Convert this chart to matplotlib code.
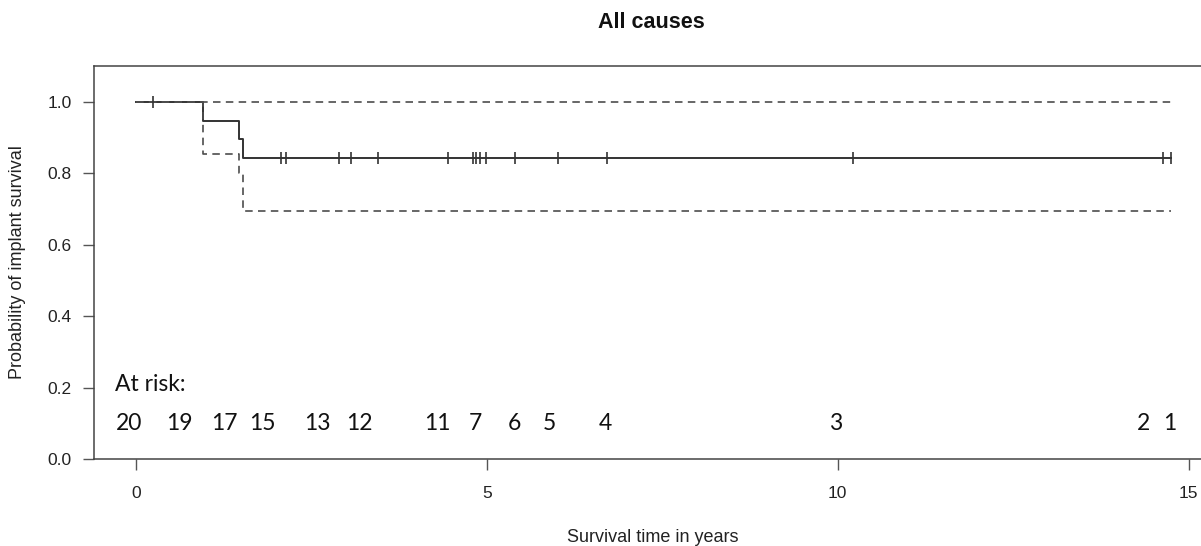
import numpy as np
import matplotlib
matplotlib.use("Agg")
import matplotlib.pyplot as plt

# ---- data ----
step_times = [0.0, 0.965, 1.47, 1.53]
survival = [1.0, 0.947, 0.895, 0.842]
lower_ci = [1.0, 0.853, 0.80, 0.695]
upper_ci = [1.0, 1.0, 1.0, 1.0]
end_time = 14.75
censor_times = [0.24, 2.07, 2.14, 2.89, 3.07, 3.45, 4.45, 4.80, 4.85, 4.91,
                4.99, 5.41, 6.02, 6.71, 10.22, 14.64, 14.75]
risk_numbers = [20, 19, 17, 15, 13, 12, 11, 7, 6, 5, 4, 3, 2, 1]
risk_positions = [-0.09, 0.62, 1.27, 1.81, 2.59, 3.18, 4.30, 4.84, 5.40,
                  5.89, 6.69, 9.97, 14.36, 14.73]
x_ticks = [0, 5, 10, 15]
y_ticks = [0.0, 0.2, 0.4, 0.6, 0.8, 1.0]

W, H = 1201, 546
fig = plt.figure(figsize=(W / 100, H / 100), dpi=100)
ax_left, ax_right, ax_top, ax_bottom = 94, 1209, 66, 459.3
ax = fig.add_axes([ax_left / W, 1 - ax_bottom / H,
                   (ax_right - ax_left) / W, (ax_bottom - ax_top) / H])

xs = step_times + [end_time]
ax.step(xs, survival + [survival[-1]], where='post', color='#333333', lw=1.4)
ax.step(xs, upper_ci + [upper_ci[-1]], where='post', color='#4d4d4d', lw=1.2,
        linestyle=(0, (4.5, 3.2)))
ax.step(xs, lower_ci + [lower_ci[-1]], where='post', color='#4d4d4d', lw=1.2,
        linestyle=(0, (4.5, 3.2)))

idx = np.searchsorted(step_times, censor_times, side='right') - 1
cens_y = np.array(survival)[idx]
ax.plot(censor_times, cens_y, linestyle='none', marker='|', markersize=9,
        markeredgewidth=1.2, color='#333333')

ax.set_xlim(-0.594, 15.29)
ax.set_ylim(0, 1.1)
ax.set_xticks(x_ticks)
ax.set_xticklabels([str(t) for t in x_ticks])
ax.set_yticks(y_ticks)
ax.set_yticklabels([f"{t:.1f}" for t in y_ticks])
for s in ax.spines.values():
    s.set_color('#444444')
    s.set_linewidth(1.1)
ax.tick_params(axis='both', direction='out', length=8, width=1.0,
               color='#555555', labelcolor='#222222', labelsize=12.5,
               labelfontfamily='Liberation Sans')
ax.tick_params(axis='y', pad=8)
ax.tick_params(axis='x', pad=11)

ax.text(-0.29, 0.21, "At risk:", fontsize=16.5, family='Lato', color='#111111',
        ha='left', va='center')
for n, x in zip(risk_numbers, risk_positions):
    ax.text(x, 0.1, str(n), fontsize=16.5, family='Lato', color='#111111',
            ha='center', va='center')

fig.text(651.5 / W, 1 - 22 / H, "All causes", fontsize=15.5, fontweight='bold',
         family='Liberation Sans', ha='center', va='center', color='#111111')
fig.text(653 / W, 1 - 537 / H, "Survival time in years", fontsize=13,
         family='Liberation Sans', ha='center', va='center', color='#222222')
fig.text(18 / W, 1 - 262.5 / H, "Probability of implant survival", fontsize=13,
         family='Liberation Sans', ha='center', va='center', rotation=90,
         color='#222222')

fig.savefig("out.png", dpi=100)
